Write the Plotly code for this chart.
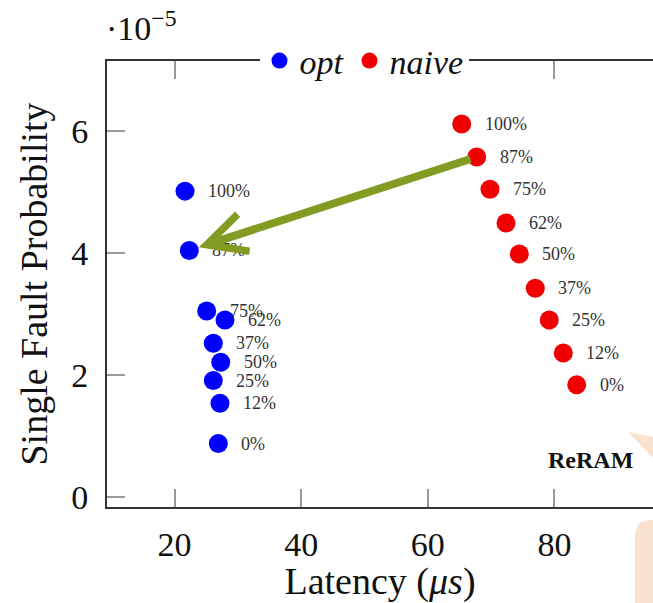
import plotly.graph_objects as go

# ---- data ----
levels = ["0%", "12%", "25%", "37%", "50%", "62%", "75%", "87%", "100%"]
opt_latency = [26.92, 27.18, 26.13, 26.13, 27.30, 27.97, 25.08, 22.34, 21.66]
opt_prob = [0.88, 1.54, 1.91, 2.52, 2.21, 2.90, 3.05, 4.04, 5.01]
naive_latency = [83.51, 81.39, 79.18, 76.97, 74.45, 72.35, 69.82, 67.72, 65.35]
naive_prob = [1.84, 2.36, 2.90, 3.42, 3.98, 4.49, 5.04, 5.57, 6.11]
x_ticks = [20, 40, 60, 80]
y_ticks = [0, 2, 4, 6]

W, H = 653, 603
ML, MR, MT, MB = 107, 0, 61, 96
PW, PH = W - ML - MR, H - MT - MB


def px(xp):
    return (xp - ML) / PW


def py(yp):
    return (H - MB - yp) / PH


SERIF = "Liberation Serif"

fig = go.Figure()
fig.add_trace(go.Scatter(x=opt_latency, y=opt_prob, mode="markers", name="opt",
                         marker=dict(color="#0000ff", size=19, line=dict(width=0))))
fig.add_trace(go.Scatter(x=naive_latency, y=naive_prob, mode="markers", name="naive",
                         marker=dict(color="#f00000", size=19, line=dict(width=0))))

annotations = []
for xs, ys in ((opt_latency, opt_prob), (naive_latency, naive_prob)):
    for xv, yv, lab in zip(xs, ys, levels):
        annotations.append(dict(x=xv, y=yv, xref="x", yref="y", text=lab, showarrow=False,
                                xanchor="left", yanchor="middle", xshift=21,
                                font=dict(family=SERIF, size=18, color="#333333")))

# green arrow from naive 87% to opt 87%
i87 = levels.index("87%")
annotations.append(dict(x=opt_latency[i87], y=opt_prob[i87], xref="x", yref="y",
                        ax=naive_latency[i87], ay=naive_prob[i87], axref="x", ayref="y",
                        text="", showarrow=True, arrowhead=5, arrowsize=0.95, arrowwidth=8,
                        arrowcolor="#839b23", standoff=10, startstandoff=5))

annotations.append(dict(x=px(590), y=py(460), xref="paper", yref="paper", text="<b>ReRAM</b>",
                        showarrow=False, xanchor="center", yanchor="middle",
                        font=dict(family=SERIF, size=24, color="#111111")))
annotations.append(dict(x=px(104), y=py(49), xref="paper", yref="paper",
                        text="·10<sup>−5</sup>", showarrow=False, xanchor="left", yanchor="bottom",
                        font=dict(family=SERIF, size=34, color="#111111")))

peach = "rgb(249,227,207)"
shapes = [
    dict(type="path", xref="paper", yref="paper", layer="above", line=dict(width=0), fillcolor=peach,
         path=f"M{px(628)},{py(432)} L{px(653)},{py(437)} L{px(653)},{py(458)} Z"),
    dict(type="path", xref="paper", yref="paper", layer="above", line=dict(width=0), fillcolor=peach,
         path=(f"M{px(635)},{py(603)} L{px(635)},{py(536)} Q{px(635)},{py(520)} {px(651)},{py(520)} "
               f"L{px(653)},{py(520)} L{px(653)},{py(603)} Z")),
]

axis_common = dict(showgrid=False, zeroline=False, ticks="inside", ticklen=18, tickwidth=1.5,
                   tickcolor="#9a9a9a", showline=True, linecolor="#333333", linewidth=2,
                   tickfont=dict(family=SERIF, size=34, color="#111111"), automargin=False)

fig.update_layout(
    width=W, height=H,
    margin=dict(l=ML, r=MR, t=MT, b=MB, autoexpand=False),
    paper_bgcolor="white", plot_bgcolor="white",
    showlegend=True,
    legend=dict(orientation="h", x=px(364), xanchor="center", y=1.0, yanchor="middle",
                bgcolor="white", borderwidth=0, itemsizing="trace",
                font=dict(family=SERIF, size=34, color="#111111", style="italic"),
                tracegroupgap=0, itemwidth=30),
    xaxis=dict(range=[9.34, 95.56], tickvals=x_ticks, mirror="ticks", ticklabelstandoff=6,
               title=dict(text="Latency (<i>μs</i>)", standoff=6,
                          font=dict(family=SERIF, size=38, color="#111111")),
               **axis_common),
    yaxis=dict(range=[-0.159, 7.14], tickvals=y_ticks, ticklabelstandoff=10,
               title=dict(text="Single Fault Probability", standoff=12,
                          font=dict(family=SERIF, size=38, color="#111111")),
               **axis_common),
    yaxis2=dict(range=[-0.159, 7.14], tickvals=y_ticks, overlaying="y", side="right",
                showgrid=False, zeroline=False, showline=False, ticks="inside", ticklen=18,
                tickwidth=1.5, tickcolor="#9a9a9a", showticklabels=False),
    annotations=annotations,
    shapes=shapes,
)

fig.write_html("out.html", config={"displayModeBar": False},
               post_script="document.body.style.margin='0px';")
